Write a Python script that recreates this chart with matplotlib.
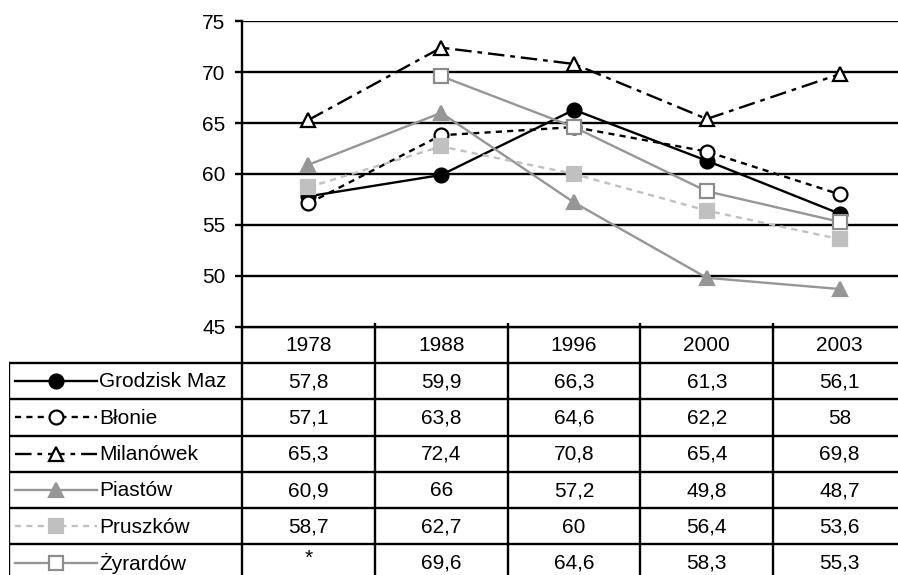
import matplotlib.pyplot as plt
import numpy as np

plt.rcParams['font.family'] = ['Liberation Sans', 'DejaVu Sans']

years = ['1978', '1988', '1996', '2000', '2003']
towns = ['Grodzisk Maz', 'Błonie', 'Milanówek', 'Piastów', 'Pruszków', 'Żyrardów']

grodzisk = [57.8, 59.9, 66.3, 61.3, 56.1]
blonie = [57.1, 63.8, 64.6, 62.2, 58]
milanowek = [65.3, 72.4, 70.8, 65.4, 69.8]
piastow = [60.9, 66, 57.2, 49.8, 48.7]
pruszkow = [58.7, 62.7, 60, 56.4, 53.6]
zyrardow = [np.nan, 69.6, 64.6, 58.3, 55.3]

series = [grodzisk, blonie, milanowek, piastow, pruszkow, zyrardow]

# line style per town
styles = [
    dict(color='black', ls='-', marker='o', mfc='black', mec='black', ms=10),
    dict(color='black', ls=(0, (2.6, 2.2)), marker='o', mfc='white', mec='black', ms=10),
    dict(color='black', ls=(0, (7, 2.5, 2, 2.5)), marker='^', mfc='white', mec='black', ms=10.5),
    dict(color='#969696', ls='-', marker='^', mfc='#969696', mec='#969696', ms=10.5),
    dict(color='#c0c0c0', ls=(0, (2.6, 2.2)), marker='s', mfc='#c0c0c0', mec='#c0c0c0', ms=9.5),
    dict(color='#969696', ls='-', marker='s', mfc='white', mec='#8c8c8c', ms=9.5),
]

LW = 1.7
FS = 15

W, H = 898, 575
fig = plt.figure(figsize=(W / 100, H / 100), dpi=100)

x_left, x_right = 242, 906
y_top, y_bot = 21.2, 326.7
row_h = 36.3
cw = (x_right - x_left) / len(years)

# chart
ax = fig.add_axes([x_left / W, 1 - y_bot / H, (x_right - x_left) / W, (y_bot - y_top) / H])
x = np.arange(len(years)) + 0.5
for vals, st in zip(series, styles):
    ax.plot(x, vals, lw=LW, mew=1.6, clip_on=False, **st)
ax.set_xlim(0, len(years))
ax.set_ylim(45, 75)
ax.set_yticks(range(45, 76, 5))
for v in range(50, 76, 5):
    ax.axhline(v, color='black', lw=LW, zorder=0)
ax.set_xticks(range(1, len(years)))
ax.set_xticklabels([])
ax.tick_params(axis='x', direction='in', length=3, width=LW)
ax.tick_params(axis='y', length=5, width=LW, pad=7, labelsize=FS)
for s in ['top', 'right']:
    ax.spines[s].set_visible(False)
for s in ['left', 'bottom']:
    ax.spines[s].set_linewidth(LW)

# data table
t_left = 9
tx = fig.add_axes([t_left / W, 1 - (y_bot + 7 * row_h) / H,
                   (x_right - t_left) / W, 7 * row_h / H])
lab_x0 = -(x_left - t_left) / cw
tx.set_xlim(lab_x0, len(years))
tx.set_ylim(7, 0)
tx.axis('off')

n = len(years)
tx.plot([0, n], [0, 0], color='black', lw=LW)
for r in range(1, 8):
    tx.plot([lab_x0, n], [r, r], color='black', lw=LW)
for c in range(n + 1):
    tx.plot([c, c], [0, 7], color='black', lw=LW)
tx.plot([lab_x0, lab_x0], [1, 7], color='black', lw=LW)

for c, yr in enumerate(years):
    tx.text(c + 0.5, 0.52, yr, ha='center', va='center', fontsize=FS)


def fmt(v):
    if np.isnan(v):
        return '*'
    return f'{v:g}'.replace('.', ',')


px = lambda p: (p - x_left) / cw
for r, (name, vals, st) in enumerate(zip(towns, series, styles), start=1):
    yc = r + 0.5
    tx.plot([px(15), px(97)], [yc, yc], lw=LW, color=st['color'], ls=st['ls'])
    tx.plot([px(56)], [yc], lw=0, marker=st['marker'], mfc=st['mfc'],
            mec=st['mec'], ms=st['ms'], mew=1.6)
    tx.text(px(99), yc + 0.02, name, ha='left', va='center', fontsize=FS)
    for c, v in enumerate(vals):
        tx.text(c + 0.5, yc + 0.02 if fmt(v) != '*' else yc - 0.12, fmt(v),
                ha='center', va='center', fontsize=FS)

fig.savefig('out.png', dpi=100)
